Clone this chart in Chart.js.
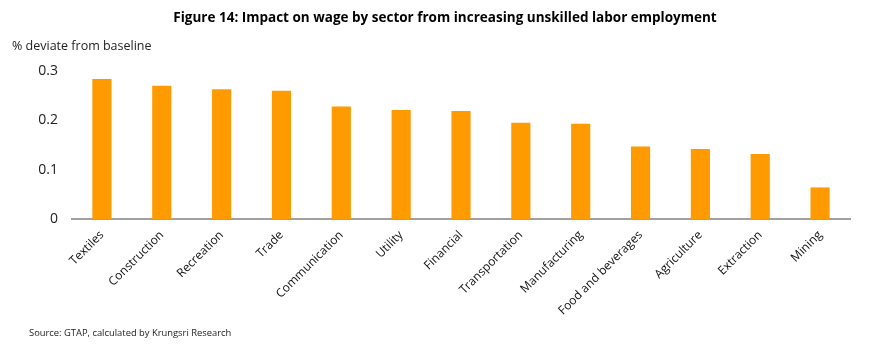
<!DOCTYPE html>
<html>
<head>
<meta charset="utf-8">
<script src="https://cdn.jsdelivr.net/npm/chart.js@4.4.1/dist/chart.umd.min.js"></script>
<style>
  html, body { margin: 0; padding: 0; background: #fff; }
  #wrap { width: 870px; height: 346px; position: relative; }
</style>
</head>
<body>
<div id="wrap"><canvas id="grafico"></canvas></div>
<script>
var titolo = "Figure 14: Impact on wage by sector from increasing unskilled labor employment";
var unita = "% deviate from baseline";
var fonte = "Source: GTAP, calculated by Krungsri Research";
var settori = ["Textiles", "Construction", "Recreation", "Trade", "Communication", "Utility", "Financial",
    "Transportation", "Manufacturing", "Food and beverages", "Agriculture", "Extraction", "Mining"];
var valori = [0.284, 0.270, 0.263, 0.260, 0.228, 0.221, 0.219, 0.195, 0.193, 0.147, 0.142, 0.132, 0.064];
var tickY = [0, 0.1, 0.2, 0.3];

var FONT = "'Open Sans', 'Noto Sans', sans-serif";

// testi fuori dal grafico: titolo, unita e fonte
var testi = {
    id: 'testi',
    afterDraw: function (chart) {
        var ctx = chart.ctx;
        ctx.save();
        ctx.fillStyle = "#000";
        ctx.textBaseline = "middle";
        ctx.font = "bold 13.5px " + FONT;
        ctx.textAlign = "center";
        ctx.fillText(titolo, 445, 18);
        ctx.font = "12.5px " + FONT;
        ctx.textAlign = "left";
        ctx.fillStyle = "#222";
        ctx.fillText(unita, 12, 46);
        ctx.font = "9.4px " + FONT;
        ctx.fillText(fonte, 29, 333);
        ctx.restore();
    }
};

var ctx = document.getElementById("grafico");
var myBarChart = new Chart(ctx, {
    type: 'bar',
    data: {
        labels: settori,
        datasets: [{
            data: valori,
            backgroundColor: "#FF9A00",
            borderWidth: 0,
            barPercentage: 0.64,
            categoryPercentage: 0.5
        }]
    },
    options: {
        responsive: true,
        maintainAspectRatio: false,
        animation: false,
        layout: { padding: { top: 71, right: 20, left: 0, bottom: 0 } },
        plugins: {
            legend: { display: false },
            title: { display: false },
            tooltip: { enabled: false }
        },
        scales: {
            x: {
                grid: { display: false },
                border: { color: "#a0a0a0", width: 2 },
                ticks: {
                    color: "#111",
                    font: { family: FONT, size: 12 },
                    minRotation: 45,
                    maxRotation: 45,
                    padding: 1
                },
                afterFit: function (scale) { scale.height = 127; }
            },
            y: {
                min: 0,
                max: 0.3,
                grid: { display: false },
                border: { display: false },
                afterBuildTicks: function (scale) {
                    scale.ticks = tickY.map(function (v) { return { value: v }; });
                },
                ticks: {
                    color: "#222",
                    font: { family: FONT, size: 14 },
                    padding: 6,
                    callback: function (v) { return String(v); }
                },
                afterFit: function (scale) { scale.width = 72; }
            }
        }
    },
    plugins: [testi]
});
</script>
</body>
</html>
